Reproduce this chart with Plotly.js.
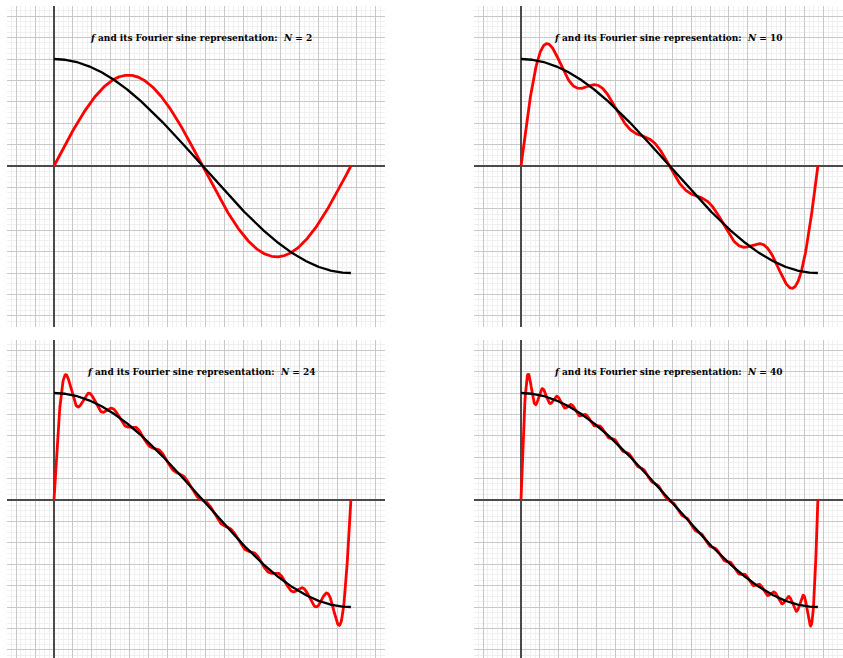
<!DOCTYPE html>
<html>
<head>
<meta charset="utf-8">
<script src="https://cdn.plot.ly/plotly-3.0.1.min.js"></script>
<style>
  html, body { margin: 0; padding: 0; background: #fff; }
  #chart { width: 843px; height: 658px; }
</style>
</head>
<body>
<div id="chart"></div>
<script>
// ---- Chart data ----
// Number of sine terms shown in each panel (top-left, top-right, bottom-left, bottom-right)
const termCounts = [2, 10, 24, 40];
// Fourier sine coefficients b_n of f on [0, pi] for n = 1..40 (odd n vanish)
const sineCoefficients = [
  0, 0.84883, 0, 0.33953, 0, 0.21827, 0, 0.16168, 0, 0.12861,
  0, 0.10685, 0, 0.09141, 0, 0.07989, 0, 0.07096, 0, 0.06382,
  0, 0.05799, 0, 0.05314, 0, 0.04904, 0, 0.04553, 0, 0.04249,
  0, 0.03983, 0, 0.03748, 0, 0.03540, 0, 0.03353, 0, 0.03185
];
// Interval on which f is drawn
const domainStart = 0;
const domainEnd = Math.PI;
const sampleCount = 700;
const titleLabels = termCounts.map(n =>
  '<b><i>f</i> and its Fourier sine representation:\u00a0\u00a0<i>N</i>\u00a0=\u00a0' + n + '</b>');

// ---- Build curves ----
const xs = [];
for (let i = 0; i < sampleCount; i++) xs.push(domainStart + (domainEnd - domainStart) * i / (sampleCount - 1));
const fVals = xs.map(x => Math.cos(x));
function partialSum(N) {
  return xs.map(x => {
    let s = 0;
    for (let n = 1; n <= N; n++) s += sineCoefficients[n - 1] * Math.sin(n * x);
    return s;
  });
}

// ---- Layout geometry ----
const W = 843, H = 658;
const panels = [
  { xd: [6.75 / W, 384.75 / W], yd: [1 - 326.5 / H, 1 - 5.5 / H], xr: [-0.5, 3.5], yr: [-1.5, 1.5] },
  { xd: [473.75 / W, 1], yd: [1 - 326.5 / H, 1 - 5.5 / H], xr: [-0.5, (W - 521) / 94.5], yr: [-1.5, 1.5] },
  { xd: [6.75 / W, 384.75 / W], yd: [0, 1 - 339.5 / H], xr: [-0.5, 3.5], yr: [-(H - 500) / 107, 1.5] },
  { xd: [473.75 / W, 1], yd: [0, 1 - 339.5 / H], xr: [-0.5, (W - 521) / 94.5], yr: [-(H - 500) / 107, 1.5] }
];

const traces = [];
const layout = {
  width: W, height: H,
  margin: { l: 0, r: 0, t: 0, b: 0 },
  paper_bgcolor: '#ffffff', plot_bgcolor: '#ffffff',
  showlegend: false,
  annotations: []
};

function axisStyle(domain, range, anchor) {
  return {
    domain: domain, range: range, anchor: anchor,
    showticklabels: false, ticks: '',
    showgrid: true, gridcolor: '#c8c8c8', gridwidth: 1,
    tick0: 0, dtick: 0.2,
    minor: { showgrid: true, dtick: 0.05, tick0: 0, gridcolor: '#f0f0f0', gridwidth: 1, ticks: '' },
    zeroline: true, zerolinecolor: '#4a4a4a', zerolinewidth: 1.4,
    showline: false, fixedrange: true
  };
}

termCounts.forEach((N, k) => {
  const idx = k === 0 ? '' : String(k + 1);
  const xa = 'x' + idx, ya = 'y' + idx;
  const p = panels[k];
  layout['xaxis' + idx] = axisStyle(p.xd, p.xr, ya);
  layout['yaxis' + idx] = axisStyle(p.yd, p.yr, xa);
  traces.push({
    x: xs, y: partialSum(N), xaxis: xa, yaxis: ya, type: 'scatter', mode: 'lines',
    line: { color: '#ff0000', width: 2.8 }, hoverinfo: 'skip'
  });
  traces.push({
    x: xs, y: fVals, xaxis: xa, yaxis: ya, type: 'scatter', mode: 'lines',
    line: { color: '#000000', width: 2.3 }, hoverinfo: 'skip'
  });
  layout.annotations.push({
    xref: xa, yref: ya, x: 1.56, y: 1.2, showarrow: false,
    text: titleLabels[k],
    font: { family: 'DejaVu Serif, serif', size: 9, color: '#000' }
  });
});

Plotly.newPlot('chart', traces, layout, { staticPlot: true, displayModeBar: false });
</script>
</body>
</html>
